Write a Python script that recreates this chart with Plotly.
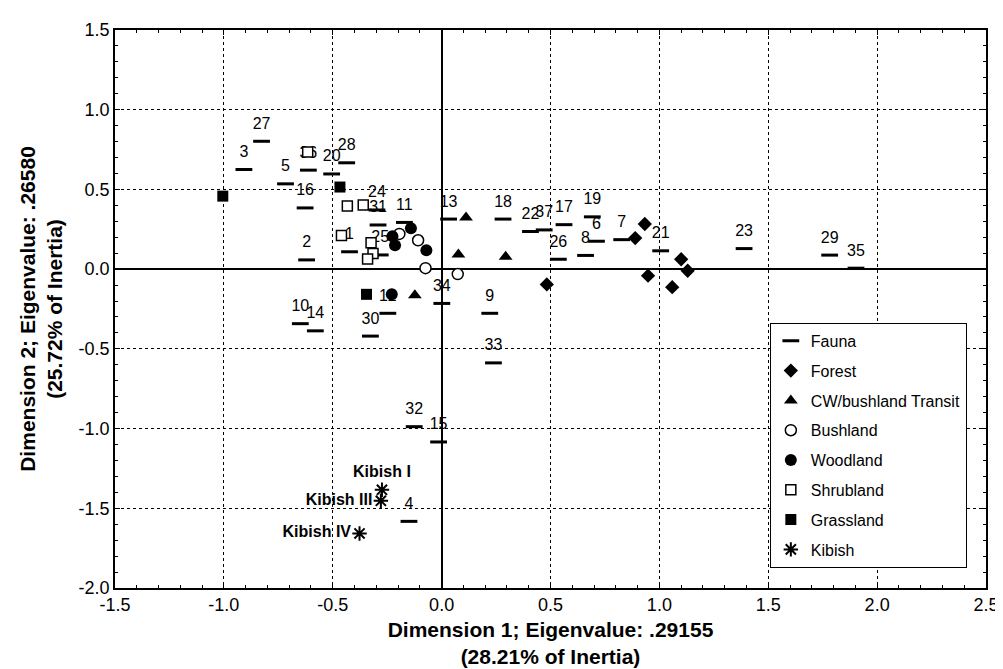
import plotly.graph_objects as go

# ---- data ----
fauna_labels = [str(i) for i in range(1, 38)]
fauna_x = [-0.423, -0.620, -0.908, -0.150, -0.717, 0.711, 0.827, 0.661, 0.221, -0.649,
           -0.171, -0.247, 0.032, -0.580, -0.014, -0.627, 0.562, 0.282, 0.692, -0.505,
           1.006, 0.408, 1.389, -0.297, -0.282, 0.536, -0.827, -0.436, 1.782, -0.327,
           -0.292, -0.126, 0.238, 0.001, 1.903, -0.612, 0.471]
fauna_y = [0.109, 0.058, 0.625, -1.582, 0.535, 0.175, 0.185, 0.086, -0.277, -0.342,
           0.293, -0.277, 0.314, -0.387, -1.084, 0.384, 0.279, 0.314, 0.328, 0.597,
           0.115, 0.236, 0.129, 0.371, 0.089, 0.062, 0.802, 0.667, 0.088, -0.420,
           0.277, -0.988, -0.588, -0.215, 0.006, 0.621, 0.246]

forest_x = [0.483, 0.889, 0.933, 0.948, 1.059, 1.100, 1.130]
forest_y = [-0.096, 0.195, 0.283, -0.041, -0.113, 0.062, -0.010]

cw_x = [0.112, 0.077, 0.294, -0.123]
cw_y = [0.324, 0.092, 0.078, -0.164]

bush_x = [-0.194, -0.108, -0.074, 0.074]
bush_y = [0.221, 0.181, 0.006, -0.031]

wood_x = [-0.226, -0.214, -0.141, -0.070, -0.229]
wood_y = [0.207, 0.150, 0.256, 0.119, -0.158]

shrub_x = [-0.615, -0.433, -0.360, -0.460, -0.324, -0.315, -0.340]
shrub_y = [0.734, 0.396, 0.402, 0.211, 0.166, 0.098, 0.064]

grass_x = [-1.005, -0.467, -0.345]
grass_y = [0.458, 0.515, -0.158]

kibish_x = [-0.274, -0.279, -0.377]
kibish_y = [-1.384, -1.453, -1.658]
kibish_labels = ["Kibish I", "Kibish III", "Kibish IV"]

x_tickvals = [-1.5, -1.0, -0.5, 0.0, 0.5, 1.0, 1.5, 2.0, 2.5]
x_ticktext = ["-1.5", "-1.0", "-0.5", "0.0", "0.5", "1.0", "1.5", "2.0", "2.5"]
y_tickvals = [-2.0, -1.5, -1.0, -0.5, 0.0, 0.5, 1.0, 1.5]
y_ticktext = ["-2.0", "-1.5", "-1.0", "-0.5", "0.0", "0.5", "1.0", "1.5"]

FONT = "Liberation Sans, Arial, sans-serif"

fig = go.Figure()

fig.add_trace(go.Scatter(
    x=fauna_x, y=fauna_y, mode="markers+text", name="Fauna",
    text=fauna_labels, textposition="top center",
    textfont=dict(family=FONT, size=16, color="black"),
    marker=dict(symbol="line-ew", size=12, color="black",
                line=dict(width=3, color="black")),
    legendgroup="a"))

fig.add_trace(go.Scatter(
    x=forest_x, y=forest_y, mode="markers", name="Forest",
    marker=dict(symbol="diamond", size=11, color="black"), legendgroup="b"))

fig.add_trace(go.Scatter(
    x=cw_x, y=cw_y, mode="markers", name="CW/bushland Transit",
    marker=dict(symbol="triangle-up", size=12, color="black"), legendgroup="c"))

fig.add_trace(go.Scatter(
    x=bush_x, y=bush_y, mode="markers", name="Bushland",
    marker=dict(symbol="circle", size=11, color="white",
                line=dict(width=1.5, color="black")), legendgroup="d"))

fig.add_trace(go.Scatter(
    x=wood_x, y=wood_y, mode="markers", name="Woodland",
    marker=dict(symbol="circle", size=12, color="black"), legendgroup="e"))

fig.add_trace(go.Scatter(
    x=shrub_x, y=shrub_y, mode="markers", name="Shrubland",
    marker=dict(symbol="square", size=10, color="white",
                line=dict(width=1.5, color="black")), legendgroup="f"))

fig.add_trace(go.Scatter(
    x=grass_x, y=grass_y, mode="markers", name="Grassland",
    marker=dict(symbol="square", size=11, color="black"), legendgroup="g"))

fig.add_trace(go.Scatter(
    x=kibish_x, y=kibish_y, mode="markers+text", name="Kibish",
    text=kibish_labels, textposition=["top center", "middle left", "middle left"],
    textfont=dict(family=FONT, size=16, color="black", weight="bold"),
    marker=dict(symbol="asterisk-open", size=12, color="black",
                line=dict(width=2, color="black")), legendgroup="h"))

axis_common = dict(
    showline=True, linecolor="black", linewidth=1.5, mirror="ticks",
    ticks="inside", ticklen=5, tickcolor="black", tickwidth=1,
    showgrid=True, gridcolor="black", griddash="dot", gridwidth=1,
    zeroline=True, zerolinecolor="black", zerolinewidth=2,
    tickfont=dict(family=FONT, size=18, color="black"),
    minor=dict(dtick=0.1, ticks="inside", ticklen=3, tickcolor="black", showgrid=False),
)

TITLE_FONT = dict(family=FONT, size=21, color="black", weight="bold")

fig.update_xaxes(range=[-1.5, 2.5], tickmode="array", tickvals=x_tickvals,
                 ticktext=x_ticktext, **axis_common,
                 title=dict(text="Dimension 1; Eigenvalue: .29155<br>(28.21% of Inertia)",
                            font=TITLE_FONT, standoff=8))
fig.update_yaxes(range=[-2.0, 1.5], tickmode="array", tickvals=y_tickvals,
                 ticktext=y_ticktext, **axis_common,
                 title=dict(text="Dimension 2; Eigenvalue: .26580<br>(25.72% of Inertia)",
                            font=TITLE_FONT, standoff=10))

fig.update_layout(
    width=1003, height=669,
    margin=dict(l=107, r=16, t=14, b=86),
    plot_bgcolor="white", paper_bgcolor="white",
    font=dict(family=FONT, color="black"),
    showlegend=True,
    legend=dict(x=0.978, y=0.036, xanchor="right", yanchor="bottom",
                bgcolor="white", bordercolor="black", borderwidth=1,
                font=dict(family=FONT, size=16, color="black"),
                tracegroupgap=6),
)

fig.write_html("out.html")
